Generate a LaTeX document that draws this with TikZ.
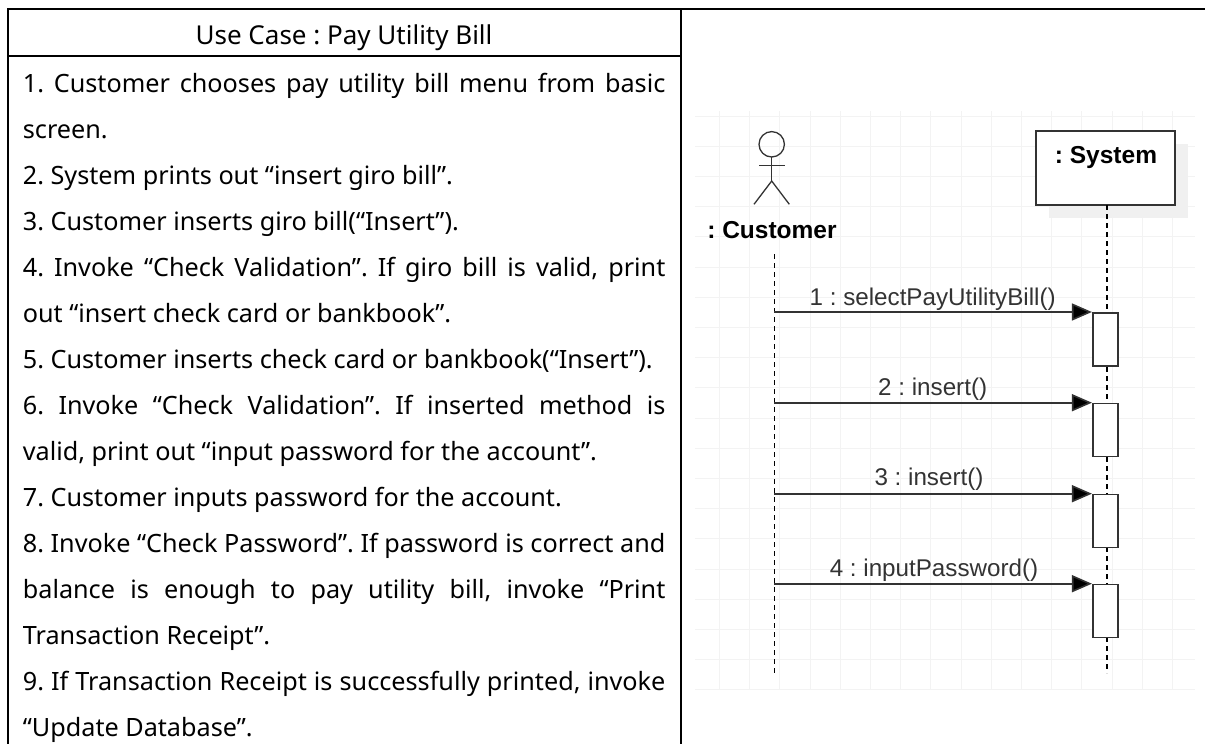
\documentclass[tikz,border=0pt]{standalone}
\usepackage{fontspec}
\setmainfont{Noto Sans}
\newfontfamily\umlfont{Liberation Sans}
\frenchspacing
\usetikzlibrary{arrows.meta,positioning}
\definecolor{G1}{RGB}{243,243,243}
\definecolor{G2}{RGB}{240,240,240}
\definecolor{T1}{RGB}{51,51,51}
\tikzset{
  gridline/.style={G1, line width=0.8pt},
  ruleline/.style={black, line width=2pt},
  lifeline/.style={black, line width=1.6pt, dash pattern=on 5pt off 4pt},
  message/.style={T1, line width=1.6pt, -{Triangle[length=20pt,width=17pt,fill=black]}},
  msglabel/.style={T1, font=\umlfont\fontsize{24.2}{26}\selectfont, inner sep=0pt, anchor=base},
  objname/.style={font=\umlfont\bfseries\fontsize{24.5}{26}\selectfont, inner sep=0pt, anchor=base},
  objbox/.style={draw=T1, fill=white, line width=1.6pt, minimum width=139pt, minimum height=74pt, inner sep=0pt},
  actbox/.style={draw=T1, fill=white, line width=1.6pt, minimum width=25pt, minimum height=53pt, inner sep=0pt, anchor=north},
  actorline/.style={T1, line width=1.3pt},
}
\begin{document}
\begin{tikzpicture}[x=1pt, y=-1pt]
      \useasboundingbox (0,0) rectangle (1205,744);
      % grid behind the sequence diagram
      \foreach \i in {0,...,15} \draw[gridline] (719.3+30.2*\i, 111)--(719.3+30.2*\i, 690);
      \foreach \j in {0,...,19} \draw[gridline] (695, 116+30.2*\j)--(1195, 116+30.2*\j);
      % table
      \draw[ruleline] (1205, 9)--(8, 9)--(8, 744);
      \draw[ruleline] (8, 55.6)--(680.7, 55.6);
      \draw[ruleline] (680.7, 9)--(680.7, 744);
      \node[font=\fontsize{26}{28}\selectfont, inner sep=0pt, anchor=base] (title) at (344, 44) {Use Case : Pay Utility Bill};
      \node[font=\fontsize{25.2}{46}\selectfont, inner sep=0pt, anchor=north west, text width=642.5pt, align=justify] (steps) at (22.7, 73.5) {%
        1. Customer chooses pay utility bill menu from basic\linebreak screen.\par
        2. System prints out “insert giro bill”.\par
        3. Customer inserts giro bill(“Insert”).\par
        4. Invoke “Check Validation”. If giro bill is valid, print\linebreak out “insert check card or bankbook”.\par
        5. Customer inserts check card or bankbook(“Insert”).\par
        6. Invoke “Check Validation”. If inserted method is\linebreak valid, print out “input password for the account”.\par
        7. Customer inputs password for the account.\par
        8. Invoke “Check Password”. If password is correct and\linebreak balance is enough to pay utility bill, invoke “Print\linebreak Transaction Receipt”.\par
        9. If Transaction Receipt is successfully printed, invoke\linebreak “Update Database”.};
      % actor
      \draw[actorline] (771.7, 144.3) circle (12.7);
      \draw[actorline] (771.7, 157)--(771.7, 181);
      \draw[actorline] (759, 165.7)--(785, 165.7);
      \draw[actorline] (754, 204.3)--(771.7, 181)--(789.3, 204.3);
      \node[objname] (customer) at (772, 238.3) {: Customer};
      % system object
      \fill[G2] (1049, 144)rectangle(1188, 218);
      \node[objbox] (system) at (1105.4, 167.7) {};
      \node[objname] (systemname) at (1106, 163.3) {: System};
      % lifelines
      \coordinate (custtop) at (774.3, 254);
      \coordinate (custend) at (774.3, 673);
      \coordinate (systop) at (1106.7, 205);
      \coordinate (sysend) at (1106.7, 673);
      \draw[lifeline] (custtop)--(custend);
      \draw[lifeline] (systop)--(sysend);
      % activations and messages
      \node[actbox] (act1) at (1105.2, 312) {};
      \node[actbox] (act2) at (1105.2, 402.7) {};
      \node[actbox] (act3) at (1105.2, 493.7) {};
      \node[actbox] (act4) at (1105.2, 583.7) {};
      \coordinate (call1) at (774.3, 312);
      \coordinate (call2) at (774.3, 402.7);
      \coordinate (call3) at (774.3, 493.7);
      \coordinate (call4) at (774.3, 583.7);
      \draw[message] (call1)--(act1.north west);
      \draw[message] (call2)--(act2.north west);
      \draw[message] (call3)--(act3.north west);
      \draw[message] (call4)--(act4.north west);
      \node[msglabel] (msg1) at (932.7, 305) {1 : selectPayUtilityBill()};
      \node[msglabel] (msg2) at (932.7, 395) {2 : insert()};
      \node[msglabel] (msg3) at (929, 485) {3 : insert()};
      \node[msglabel] (msg4) at (934, 576.7) {4 : inputPassword()};
    \end{tikzpicture}
\end{document}
